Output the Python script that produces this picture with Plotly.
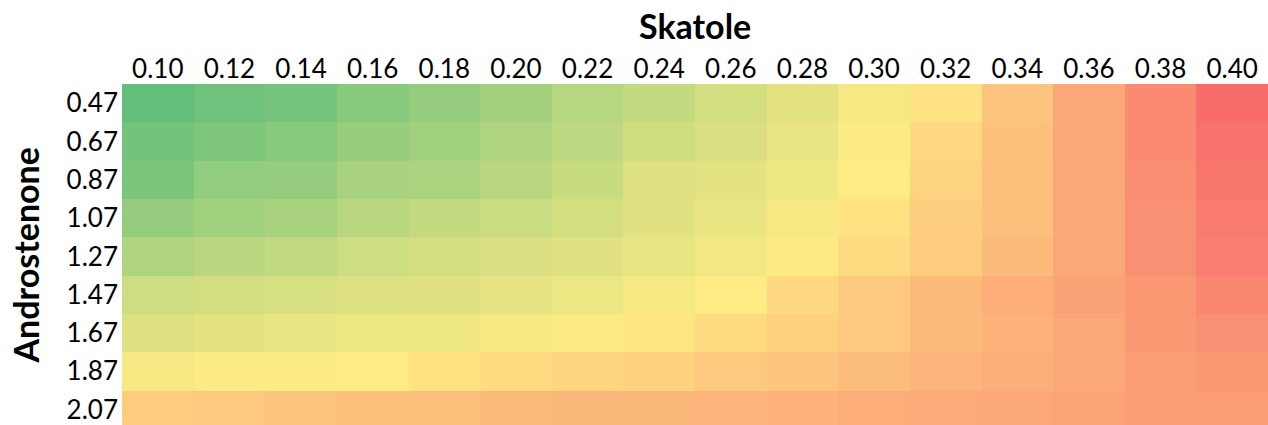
import plotly.graph_objects as go

skatole = ["0.10", "0.12", "0.14", "0.16", "0.18", "0.20", "0.22", "0.24",
           "0.26", "0.28", "0.30", "0.32", "0.34", "0.36", "0.38", "0.40"]
androstenone = ["0.47", "0.67", "0.87", "1.07", "1.27", "1.47", "1.67", "1.87", "2.07"]

# relative score per cell (0 = best/green, 0.5 = mid/yellow, 1 = worst/red)
row_047 = [0.00, 0.04, 0.06, 0.12, 0.16, 0.21, 0.27, 0.31, 0.36, 0.41, 0.47, 0.54, 0.65, 0.76, 0.87, 0.99]
row_067 = [0.05, 0.09, 0.12, 0.17, 0.20, 0.24, 0.29, 0.35, 0.38, 0.43, 0.49, 0.57, 0.66, 0.76, 0.87, 0.97]
row_087 = [0.08, 0.15, 0.16, 0.22, 0.23, 0.28, 0.32, 0.39, 0.41, 0.45, 0.50, 0.59, 0.67, 0.76, 0.86, 0.95]
row_107 = [0.16, 0.20, 0.22, 0.28, 0.31, 0.33, 0.36, 0.40, 0.43, 0.47, 0.53, 0.61, 0.67, 0.76, 0.85, 0.93]
row_127 = [0.24, 0.28, 0.30, 0.34, 0.36, 0.38, 0.40, 0.43, 0.46, 0.49, 0.56, 0.62, 0.69, 0.76, 0.85, 0.91]
row_147 = [0.34, 0.36, 0.37, 0.39, 0.40, 0.42, 0.44, 0.47, 0.50, 0.57, 0.63, 0.69, 0.74, 0.78, 0.82, 0.88]
row_167 = [0.39, 0.41, 0.43, 0.44, 0.45, 0.47, 0.49, 0.52, 0.56, 0.60, 0.63, 0.69, 0.72, 0.76, 0.82, 0.85]
row_187 = [0.47, 0.49, 0.49, 0.50, 0.53, 0.56, 0.58, 0.60, 0.63, 0.65, 0.68, 0.71, 0.73, 0.76, 0.80, 0.82]
row_207 = [0.62, 0.63, 0.65, 0.66, 0.67, 0.69, 0.70, 0.70, 0.71, 0.72, 0.74, 0.75, 0.76, 0.77, 0.79, 0.80]

z = [row_047, row_067, row_087, row_107, row_127, row_147, row_167, row_187, row_207]

colorscale = [[0.0, "#63BE7B"], [0.5, "#FFEB84"], [1.0, "#F8696B"]]

fig = go.Figure(go.Heatmap(
    z=z, x=skatole, y=androstenone,
    colorscale=colorscale, zmin=0, zmax=1,
    showscale=False, xgap=0, ygap=0,
))

FONT = "Lato, Calibri, Carlito, sans-serif"
PLOT_W = 1268 - 122

fig.update_layout(
    width=1268, height=425,
    margin=dict(l=122, r=0, t=84, b=0),
    paper_bgcolor="white", plot_bgcolor="white",
    font=dict(family=FONT, color="black", size=26),
    xaxis=dict(
        side="top", showgrid=False, zeroline=False, ticks="", showline=False,
        automargin=False, tickfont=dict(size=26, family=FONT),
    ),
    yaxis=dict(
        autorange=False, range=[8.4, -0.5], automargin=False,
        showgrid=False, zeroline=False, ticks="", showline=False,
        tickfont=dict(size=26, family=FONT), ticklabelstandoff=3,
    ),
    annotations=[
        dict(text="<b>Skatole</b>", xref="paper", yref="paper", x=0.5, y=1,
             xanchor="center", yanchor="middle", yshift=59, showarrow=False,
             font=dict(size=34, family=FONT, color="black")),
        dict(text="<b>Androstenone</b>", xref="paper", yref="paper",
             x=-97 / PLOT_W, y=0.5, yshift=-1, xanchor="center", yanchor="middle",
             textangle=-90, showarrow=False,
             font=dict(size=34, family=FONT, color="black")),
    ],
)

fig.write_html(
    "out.html",
    config={"displayModeBar": False},
    post_script="document.body.style.margin='0';document.body.style.overflow='hidden';",
)
